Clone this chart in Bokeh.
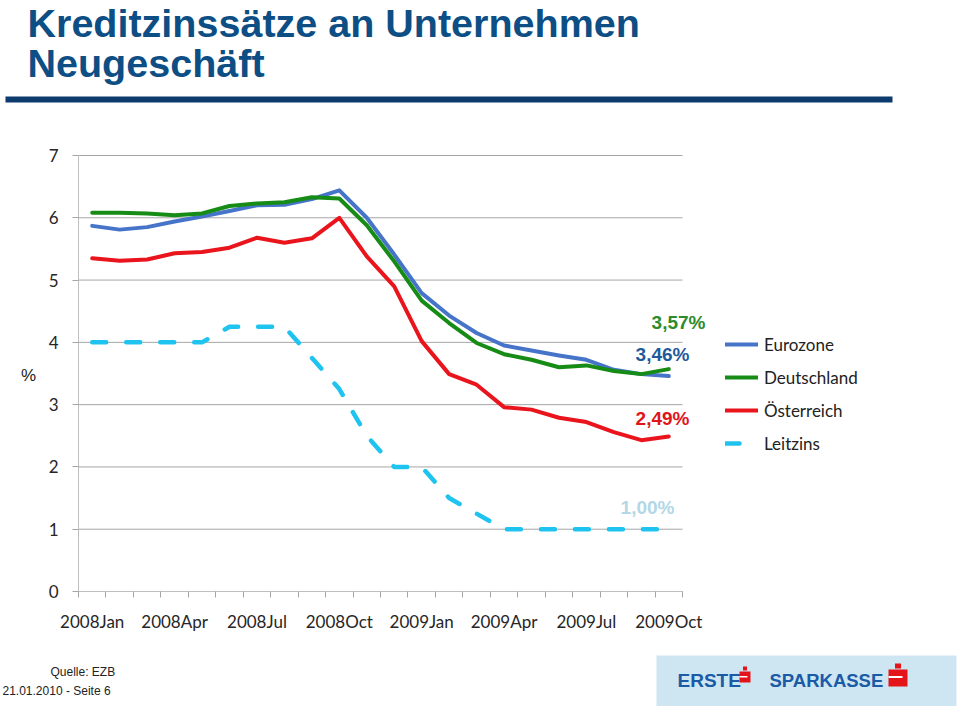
from bokeh.plotting import figure
from bokeh.models import Range1d, FixedTicker, Label, BoxAnnotation, Legend, LegendItem
from bokeh.embed import file_html
from bokeh.resources import INLINE

months = ["2008Jan", "2008Feb", "2008Mar", "2008Apr", "2008May", "2008Jun", "2008Jul", "2008Aug",
          "2008Sep", "2008Oct", "2008Nov", "2008Dec", "2009Jan", "2009Feb", "2009Mar", "2009Apr",
          "2009May", "2009Jun", "2009Jul", "2009Aug", "2009Sep", "2009Oct"]
eurozone = [5.87, 5.81, 5.85, 5.94, 6.02, 6.11, 6.20, 6.21, 6.30, 6.44, 6.00, 5.41,
            4.79, 4.43, 4.15, 3.95, 3.87, 3.79, 3.72, 3.56, 3.49, 3.46]
deutschland = [6.08, 6.08, 6.07, 6.04, 6.07, 6.19, 6.23, 6.25, 6.33, 6.31, 5.88, 5.30,
               4.67, 4.31, 3.99, 3.81, 3.72, 3.60, 3.63, 3.54, 3.49, 3.57]
oesterreich = [5.35, 5.31, 5.33, 5.43, 5.45, 5.52, 5.68, 5.60, 5.67, 6.00, 5.38, 4.90,
               4.02, 3.49, 3.32, 2.96, 2.92, 2.79, 2.72, 2.56, 2.43, 2.49]
leitzins = [4.0, 4.0, 4.0, 4.0, 4.0, 4.25, 4.25, 4.25, 3.75, 3.25, 2.5, 2.0,
            2.0, 1.5, 1.25, 1.0, 1.0, 1.0, 1.0, 1.0, 1.0, 1.0]
y_ticks = [0, 1, 2, 3, 4, 5, 6, 7]
label_every = 3
end_labels = ["3,57%", "3,46%", "2,49%", "1,00%"]

W, H = 960, 706
# pixel box of the plotting area inside the page
PL, PR, PT, PB = 78, 682, 155, 591
n = len(months)
x_lo, x_hi = -0.5, n - 0.5
y_lo, y_hi = y_ticks[0], y_ticks[-1]
sx = (PR - PL) / (x_hi - x_lo)
sy = (PB - PT) / (y_hi - y_lo)
xr = Range1d(x_lo - PL / sx, x_hi + (W - PR) / sx)
yr = Range1d(y_lo - (H - PB) / sy, y_hi + PT / sy)

xs = list(range(n))

p = figure(width=W, height=H, output_backend="svg", toolbar_location=None, title=None,
           x_range=xr, y_range=yr,
           min_border_left=0, min_border_right=0, min_border_top=0, min_border_bottom=0)
p.outline_line_color = None
p.background_fill_color = "white"
p.border_fill_color = "white"
p.xgrid.visible = False
p.ygrid.visible = False

# horizontal grid lines across the plotting area only
p.segment(x0=[x_lo] * len(y_ticks), x1=[x_hi] * len(y_ticks), y0=y_ticks, y1=y_ticks,
          line_color="#a6a6a6", line_width=1)

# y axis
p.yaxis.fixed_location = x_lo
p.yaxis.bounds = (y_lo, y_hi)
p.yaxis.ticker = FixedTicker(ticks=y_ticks)
p.yaxis.axis_line_color = "#bfbfbf"
p.yaxis.major_tick_line_color = "#a6a6a6"
p.yaxis.major_tick_out = 6
p.yaxis.major_tick_in = 0
p.yaxis.minor_tick_line_color = None
p.yaxis.major_label_text_font = "Lato"
p.yaxis.major_label_text_font_size = "17px"
p.yaxis.major_label_text_color = "#262626"
p.yaxis.major_label_standoff = 14

# x axis
major = [i for i in xs if i % label_every == 0]
p.xaxis.fixed_location = y_lo
p.xaxis.bounds = (x_lo, x_hi)
p.xaxis.ticker = FixedTicker(ticks=major, minor_ticks=[i - 0.5 for i in range(n + 1)])
p.xaxis.major_label_overrides = {i: months[i] for i in major}
p.xaxis.axis_line_color = "#bfbfbf"
p.xaxis.major_tick_line_color = None
p.xaxis.major_tick_out = 0
p.xaxis.major_tick_in = 0
p.xaxis.minor_tick_line_color = "#a6a6a6"
p.xaxis.minor_tick_out = 6
p.xaxis.minor_tick_in = 0
p.xaxis.major_label_text_font = "Lato"
p.xaxis.major_label_text_font_size = "17px"
p.xaxis.major_label_text_color = "#262626"
p.xaxis.major_label_standoff = 13

r_eu = p.line(xs, eurozone, line_width=4, color="#4674c8", line_join="round", line_cap="round")
r_de = p.line(xs, deutschland, line_width=4, color="#168c16", line_join="round", line_cap="round")
r_at = p.line(xs, oesterreich, line_width=4, color="#ea141c", line_join="round", line_cap="round")
r_lz = p.line(xs, leitzins, line_width=4.5, color="#1fc3ef", line_dash="14 20",
              line_join="round", line_cap="round")

legend = Legend(items=[LegendItem(label="Eurozone", renderers=[r_eu]),
                       LegendItem(label="Deutschland", renderers=[r_de]),
                       LegendItem(label="Österreich", renderers=[r_at]),
                       LegendItem(label="Leitzins", renderers=[r_lz])],
                location=(725, H - 453.5))
legend.glyph_width = 33
legend.glyph_height = 20
legend.label_height = 20
legend.label_standoff = 6
legend.spacing = 12
legend.padding = 0
legend.margin = 0
legend.border_line_color = None
legend.background_fill_alpha = 0
legend.label_text_font = "Lato"
legend.label_text_font_size = "17px"
legend.label_text_color = "#222222"
p.add_layout(legend)


def lab(cx, cy, text, size, color, font="Liberation Sans", style="normal", align="left",
        baseline="middle"):
    p.add_layout(Label(x=cx, y=H - cy, x_units="screen", y_units="screen", text=text,
                       text_font=font, text_font_size=size, text_color=color,
                       text_font_style=style, text_align=align, text_baseline=baseline))


def box(l, t, r, b, color):
    p.add_layout(BoxAnnotation(left=l, right=r, top=H - t, bottom=H - b,
                               left_units="screen", right_units="screen",
                               top_units="screen", bottom_units="screen",
                               fill_color=color, fill_alpha=1, line_color=None))


# title
lab(27, 22, "Kreditzinssätze an Unternehmen", "39.5px", "#0d4e85", style="bold", baseline="alphabetic")
lab(27, 62, "Neugeschäft", "39.5px", "#0d4e85", style="bold", baseline="alphabetic")
box(5, 96, 892, 102, "#0e3b6e")

# axis unit
lab(28, 375, "%", "17px", "#222222", align="center")

# end labels
lab(678, 322, end_labels[0], "19px", "#2c8c2c", style="bold", align="center")
lab(662, 354, end_labels[1], "19px", "#1f5b9a", style="bold", align="center")
lab(662, 418, end_labels[2], "19px", "#e0151b", style="bold", align="center")
lab(647, 507, end_labels[3], "19px", "#b3d7e6", style="bold", align="center")

# footer
lab(50, 671, "Quelle: EZB", "12px", "#222222")
lab(2, 690, "21.01.2010 - Seite 6", "12px", "#222222")

# logo box
box(656, 655, 956, 706, "#cde6f2")
lab(677, 680, "ERSTE", "19px", "#1a5aa6", style="bold")
box(739, 671, 750, 682, "#e3151b")
box(739, 675.5, 747, 677, "#ffffff")
box(742.5, 666, 746.5, 670, "#e3151b")
lab(769, 680, "SPARKASSE", "18.5px", "#1a5aa6", style="bold")
box(888, 669, 907, 686, "#e3151b")
box(888, 675.5, 902, 677.5, "#ffffff")
box(894.5, 663, 900.5, 668, "#e3151b")

open("out.html", "w").write(file_html(p, INLINE))
